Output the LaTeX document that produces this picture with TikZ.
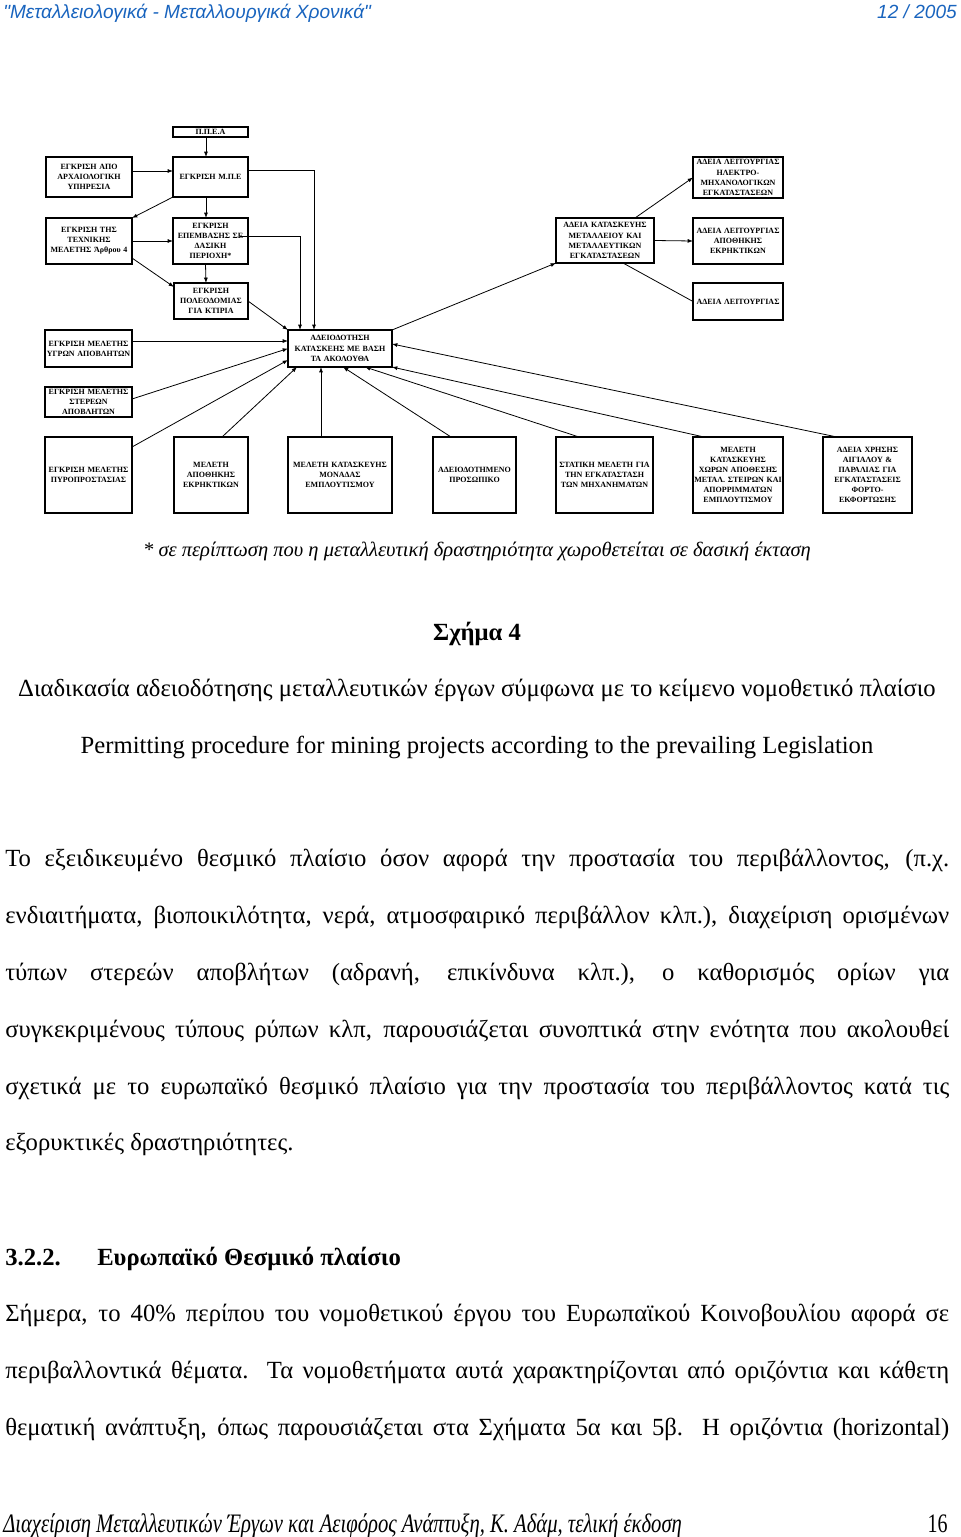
\documentclass[tikz,border=0pt]{standalone}
\usepackage{fontspec}
\setmainfont{Liberation Serif}
\newfontfamily\hdrfont{Liberation Sans}
\usepackage{graphicx}
\usetikzlibrary{positioning,arrows.meta}
\definecolor{hdrblue}{RGB}{25,100,190}
\newcommand\jline[1]{\hbox to 708pt{#1}}

\begin{document}
\begin{tikzpicture}[x=0.75pt,y=-0.75pt,
    box/.style={draw, line width=1.1pt, inner sep=0pt, outer sep=0pt, align=center,
      font=\fontsize{6}{7.6}\selectfont\bfseries},
    wh/.style 2 args={text width=#1, minimum height=#2},
    link/.style={-{Latex[length=4pt,width=3pt]}, line width=0.6pt},
    tie/.style={line width=0.6pt},
    bodyline/.style={anchor=base west, inner sep=0pt, font=\fontsize{18.5}{20}\selectfont},
    capline/.style={anchor=base, inner sep=0pt}]
  \useasboundingbox (0,0) rectangle (960,1537);

  % header
  \node[anchor=base west, inner sep=0pt, text=hdrblue,
    font=\hdrfont\itshape\fontsize{14.3}{16}\selectfont] (journal) at (3,19)
    {"Μεταλλειολογικά - Μεταλλουργικά Χρονικά"};
  \node[anchor=base east, inner sep=0pt, text=hdrblue,
    font=\hdrfont\itshape\fontsize{14.3}{16}\selectfont] (issue) at (957,19) {12 / 2005};

  % boxes
  \node[box, wh={56.25pt}{7.5pt}] (ppea) at (210.5,132) {Π.Π.Ε.Α};
  \node[box, wh={64.5pt}{30pt}] (arch) at (89,177) {ΕΓΚΡΙΣΗ ΑΠΟ\\ΑΡΧΑΙΟΛΟΓΙΚΗ\\ΥΠΗΡΕΣΙΑ};
  \node[box, wh={56.25pt}{30pt}] (mpe) at (210.5,177) {ΕΓΚΡΙΣΗ Μ.Π.Ε};
  \node[box, wh={67.5pt}{30.75pt}] (ilektro) at (738,177.5)
    {ΑΔΕΙΑ ΛΕΙΤΟΥΡΓΙΑΣ\\ΗΛΕΚΤΡΟ-\\ΜΗΧΑΝΟΛΟΓΙΚΩΝ\\ΕΓΚΑΤΑΣΤΑΣΕΩΝ};
  \node[box, wh={64.5pt}{34.5pt}] (texn) at (89,241) {ΕΓΚΡΙΣΗ ΤΗΣ\\ΤΕΧΝΙΚΗΣ\\ΜΕΛΕΤΗΣ Άρθρου 4};
  \node[box, wh={56.25pt}{34.5pt}] (epemv) at (210.5,241) {ΕΓΚΡΙΣΗ\\ΕΠΕΜΒΑΣΗΣ ΣΕ\\ΔΑΣΙΚΗ\\ΠΕΡΙΟΧΗ*};
  \node[box, wh={73.5pt}{33.75pt}] (kataskevi) at (605,240.5)
    {ΑΔΕΙΑ ΚΑΤΑΣΚΕΥΗΣ\\ΜΕΤΑΛΛΕΙΟΥ ΚΑΙ\\ΜΕΤΑΛΛΕΥΤΙΚΩΝ\\ΕΓΚΑΤΑΣΤΑΣΕΩΝ};
  \node[box, wh={67.5pt}{34.5pt}] (apothlit) at (738,241) {ΑΔΕΙΑ ΛΕΙΤΟΥΡΓΙΑΣ\\ΑΠΟΘΗΚΗΣ\\ΕΚΡΗΚΤΙΚΩΝ};
  \node[box, wh={55.5pt}{27pt}] (poleod) at (211,301) {ΕΓΚΡΙΣΗ\\ΠΟΛΕΟΔΟΜΙΑΣ\\ΓΙΑ ΚΤΙΡΙΑ};
  \node[box, wh={67.5pt}{27.75pt}] (leitourgia) at (738,301.5) {ΑΔΕΙΑ ΛΕΙΤΟΥΡΓΙΑΣ};
  \node[box, wh={65.25pt}{27.75pt}] (ygra) at (88.5,348.5) {ΕΓΚΡΙΣΗ ΜΕΛΕΤΗΣ\\ΥΓΡΩΝ ΑΠΟΒΛΗΤΩΝ};
  \node[box, wh={78pt}{27.75pt}] (adeiod) at (340,348.5) {ΑΔΕΙΟΔΟΤΗΣΗ\\ΚΑΤΑΣΚΕΗΣ ΜΕ ΒΑΣΗ\\ΤΑ ΑΚΟΛΟΥΘΑ};
  \node[box, wh={65.25pt}{22.5pt}] (sterea) at (88.5,402) {ΕΓΚΡΙΣΗ ΜΕΛΕΤΗΣ\\ΣΤΕΡΕΩΝ\\ΑΠΟΒΛΗΤΩΝ};

  % bottom row
  \node[box, wh={65.25pt}{57pt}] (pyro) at (88.5,475) {ΕΓΚΡΙΣΗ ΜΕΛΕΤΗΣ\\ΠΥΡΟΠΡΟΣΤΑΣΙΑΣ};
  \node[box, wh={55.5pt}{57pt}, right=31.5pt of pyro] (meletiapoth) {ΜΕΛΕΤΗ\\ΑΠΟΘΗΚΗΣ\\ΕΚΡΗΚΤΙΚΩΝ};
  \node[box, wh={78pt}{57pt}, right=30pt of meletiapoth] (emploutismos)
    {ΜΕΛΕΤΗ ΚΑΤΑΣΚΕΥΗΣ\\ΜΟΝΑΔΑΣ\\ΕΜΠΛΟΥΤΙΣΜΟΥ};
  \node[box, wh={62.25pt}{57pt}, right=30.75pt of emploutismos] (prosopiko) {ΑΔΕΙΟΔΟΤΗΜΕΝΟ\\ΠΡΟΣΩΠΙΚΟ};
  \node[box, wh={72.75pt}{57pt}, right=30pt of prosopiko] (statiki)
    {ΣΤΑΤΙΚΗ ΜΕΛΕΤΗ ΓΙΑ\\ΤΗΝ ΕΓΚΑΤΑΣΤΑΣΗ\\ΤΩΝ ΜΗΧΑΝΗΜΑΤΩΝ};
  \node[box, wh={67.5pt}{57pt}, right=30pt of statiki] (choroi)
    {ΜΕΛΕΤΗ\\ΚΑΤΑΣΚΕΥΗΣ\\ΧΩΡΩΝ ΑΠΟΘΕΣΗΣ\\ΜΕΤΑΛ. ΣΤΕΙΡΩΝ ΚΑΙ\\ΑΠΟΡΡΙΜΜΑΤΩΝ\\ΕΜΠΛΟΥΤΙΣΜΟΥ};
  \node[box, wh={66.75pt}{57pt}, right=30pt of choroi] (aigialos)
    {ΑΔΕΙΑ ΧΡΗΣΗΣ\\ΑΙΓΙΑΛΟΥ \&\\ΠΑΡΑΛΙΑΣ ΓΙΑ\\ΕΓΚΑΤΑΣΤΑΣΕΙΣ\\ΦΟΡΤΟ-\\ΕΚΦΟΡΤΩΣΗΣ};

  % connectors
  \draw[link] ([xshift=-3.4pt]ppea.south) -- ([xshift=-3.4pt]mpe.north);
  \draw[link] ([yshift=4.5pt]arch.east) -- ([yshift=4.5pt]mpe.west);
  \draw[link] (mpe.south west) -- (texn.north east);
  \draw[link] ([xshift=-3.4pt]mpe.south) -- ([xshift=-3.4pt]epemv.north);
  \draw[link] ([yshift=5.25pt]mpe.east) -| ([xshift=-19.5pt]adeiod.north);
  \draw[link] (texn.east) -- (epemv.west);
  \draw[link] ([xshift=-6pt,yshift=3.75pt]epemv.east) -| ([xshift=-30pt]adeiod.north);
  \draw[link] ([yshift=4.5pt]texn.south east) -- ([yshift=-3pt]poleod.north west);
  \draw[link] ([xshift=-3.75pt]epemv.south) -- ([xshift=-3.75pt]poleod.north);
  \draw[link] (poleod.east) -- (adeiod.north west);
  \draw[link] ([yshift=5.6pt]ygra.east) -- ([yshift=5.6pt]adeiod.west);
  \draw[link] ([yshift=2.25pt]sterea.east) -- (adeiod.west);
  \draw[link] ([yshift=-7.5pt]pyro.north east) -- ([yshift=-8.6pt]adeiod.west);
  \draw[link] ([xshift=8.25pt]meletiapoth.north) -- ([xshift=-32.25pt]adeiod.south);
  \draw[link] ([xshift=-14.25pt]emploutismos.north) -- ([xshift=-14.25pt]adeiod.south);
  \draw[link] ([xshift=-17.6pt]prosopiko.north) -- ([xshift=2.25pt]adeiod.south);
  \draw[link] ([xshift=-19.1pt]statiki.north) -- ([xshift=18.75pt]adeiod.south);
  \draw[link] ([xshift=-25.5pt]choroi.north) -- (adeiod.south east);
  \draw[link] ([xshift=-22.9pt]aigialos.north) -- ([yshift=3.4pt]adeiod.east);
  \draw[link] (adeiod.north east) -- (kataskevi.south west);
  \draw[link] ([xshift=22.5pt]kataskevi.north) -- (ilektro.west);
  \draw[link] (kataskevi.east) -- (apothlit.west);
  \draw[tie] ([xshift=13.5pt]kataskevi.south) -- (leitourgia.west); % no tip

  % captions
  \node[capline, font=\itshape\fontsize{15.4}{17}\selectfont] (note) at (477,556)
    {* σε περίπτωση που η μεταλλευτική δραστηριότητα χωροθετείται σε δασική έκταση};
  \node[capline, font=\bfseries\fontsize{18.5}{20}\selectfont] (fig) at (477,640) {Σχήμα 4};
  \node[capline, font=\fontsize{18.5}{20}\selectfont] (grcap) at (477,696)
    {Διαδικασία αδειοδότησης μεταλλευτικών έργων σύμφωνα με το κείμενο νομοθετικό πλαίσιο};
  \node[capline, font=\fontsize{18.5}{20}\selectfont] (encap) at (477,753)
    {Permitting procedure for mining projects according to the prevailing Legislation};

  % text
  \node[bodyline] (p1) at (5,866) {\jline{Το εξειδικευμένο θεσμικό πλαίσιο όσον αφορά την προστασία του περιβάλλοντος, (π.χ.}};
  \node[bodyline] (p2) at (5,923) {\jline{ενδιαιτήματα, βιοποικιλότητα, νερά, ατμοσφαιρικό περιβάλλον κλπ.), διαχείριση ορισμένων}};
  \node[bodyline] (p3) at (5,980) {\jline{τύπων στερεών αποβλήτων (αδρανή, επικίνδυνα κλπ.), ο καθορισμός ορίων για}};
  \node[bodyline] (p4) at (5,1037) {\jline{συγκεκριμένους τύπους ρύπων κλπ, παρουσιάζεται συνοπτικά στην ενότητα που ακολουθεί}};
  \node[bodyline] (p5) at (5,1094) {\jline{σχετικά με το ευρωπαϊκό θεσμικό πλαίσιο για την προστασία του περιβάλλοντος κατά τις}};
  \node[bodyline] (p6) at (5,1150) {εξορυκτικές δραστηριότητες.};

  \node[bodyline, font=\bfseries\fontsize{18.5}{20}\selectfont] (secnum) at (5,1265) {3.2.2.};
  \node[bodyline, font=\bfseries\fontsize{18.5}{20}\selectfont] (sectitle) at (97,1265) {Ευρωπαϊκό Θεσμικό πλαίσιο};

  \node[bodyline] (q1) at (5,1321) {\jline{Σήμερα, το 40\% περίπου του νομοθετικού έργου του Ευρωπαϊκού Κοινοβουλίου αφορά σε}};
  \node[bodyline] (q2) at (5,1378) {\jline{περιβαλλοντικά θέματα. Τα νομοθετήματα αυτά χαρακτηρίζονται από οριζόντια και κάθετη}};
  \node[bodyline] (q3) at (5,1435) {\jline{θεματική ανάπτυξη, όπως παρουσιάζεται στα Σχήματα 5α και 5β. Η οριζόντια (horizontal)}};

  % footer
  \node[bodyline, font=\itshape\fontsize{20}{22}\selectfont] (foot) at (3,1532)
    {\resizebox{509pt}{\height}{Διαχείριση Μεταλλευτικών Έργων και Αειφόρος Ανάπτυξη, Κ. Αδάμ, τελική έκδοση}};
  \node[anchor=base east, inner sep=0pt, font=\fontsize{20}{22}\selectfont] (page) at (948,1532)
    {\resizebox{15pt}{\height}{16}};
\end{tikzpicture}
\end{document}
